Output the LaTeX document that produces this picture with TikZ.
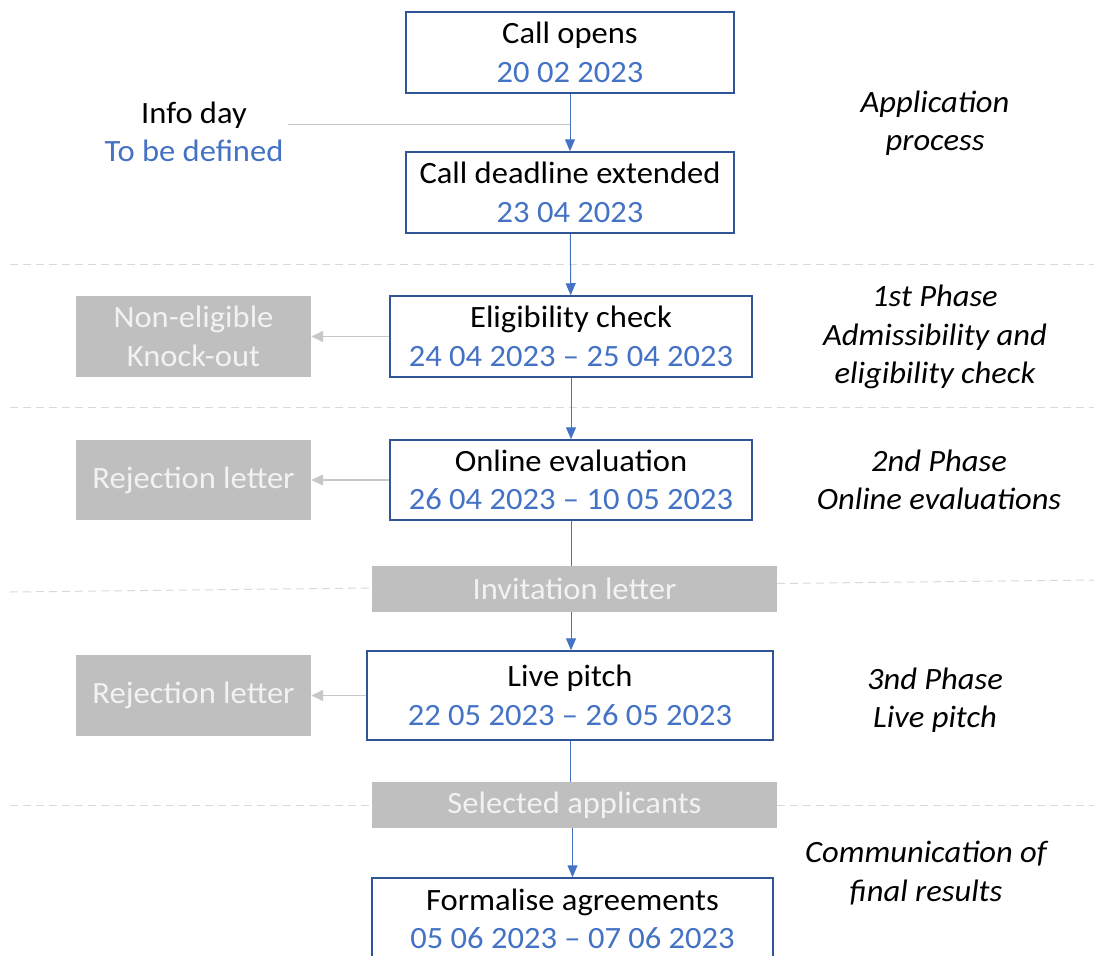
\documentclass[tikz,border=0pt]{standalone}
\usepackage{fontspec}
\setmainfont{Carlito}[FakeStretch=1.05]
\usetikzlibrary{arrows.meta,positioning}

\definecolor{boxblue}{RGB}{47,85,151}
\definecolor{dateblue}{RGB}{68,114,196}
\definecolor{greybox}{RGB}{191,191,191}
\definecolor{greytext}{RGB}{242,242,242}
\definecolor{greyline}{RGB}{200,200,200}
\definecolor{divgrey}{RGB}{217,217,217}

\newcommand{\datum}[1]{\textcolor{dateblue}{#1}}
\newcommand{\bodyfont}{\fontsize{31}{38.5}\selectfont}

\tikzset{
	stage/.style={draw=boxblue, line width=1.5pt, fill=white, align=center, inner sep=0pt},
	outcome/.style={fill=greybox, text=greytext, align=center, inner sep=0pt},
	flow/.style={draw=dateblue, line width=1pt, -{Triangle[length=12pt,width=10pt]}},
	plain/.style={draw=dateblue, line width=1pt},
	reject/.style={draw=greyline, line width=1.5pt, -{Triangle[length=12pt,width=11pt]}},
	phase/.style={font=\bodyfont\itshape, align=center},
	divider/.style={draw=divgrey, line width=1pt, dash pattern=on 8pt off 5pt}
}

\begin{document}
\begin{tikzpicture}[x=1pt, y=-1pt, font=\bodyfont]
	\useasboundingbox (0,0) rectangle (1094,955);

	% phase dividers
	\draw[divider] (10,264) -- (1094,264);
	\draw[divider] (10,407) -- (1094,407);
	\draw[divider] (10,592) -- (1094,580);
	\draw[divider] (10,805) -- (1094,805);

	% main flow
	\node[stage, minimum width=328, minimum height=81] (opens) at (570,52.5) {Call opens\\\datum{20 02 2023}};
	\node[stage, minimum width=328, minimum height=81] (deadline) at (570,192.5) {Call deadline extended\\\datum{23 04 2023}};
	\node[stage, minimum width=362, minimum height=81] (elig) at (571,336.5) {Eligibility check\\\datum{24 04 2023 -- 25 04 2023}};
	\node[stage, minimum width=362, minimum height=80] (online) at (571,480) {Online evaluation\\\datum{26 04 2023 -- 10 05 2023}};
	\node[outcome, minimum width=405, minimum height=46] (invite) at (574.5,589) {Invitation letter};
	\node[stage, minimum width=406, minimum height=89] (pitch) at (570,695.5) {Live pitch\\\datum{22 05 2023 -- 26 05 2023}};
	\node[outcome, minimum width=405, minimum height=46] (selected) at (574.5,805) {Selected applicants};
	\node[stage, minimum width=401, minimum height=82] (formal) at (572.5,919) {Formalise agreements\\\datum{05 06 2023 -- 07 06 2023}};

	% knock-outs
	\node[outcome, minimum width=235, minimum height=81] (knock) at (193.5,336.5) {Non-eligible\\Knock-out};
	\node[outcome, minimum width=235, minimum height=80] (reject1) at (193.5,480) {Rejection letter};
	\node[outcome, minimum width=235, minimum height=81] (reject2) at (193.5,695.5) {Rejection letter};

	% info day
	\node[align=center, inner sep=4pt] (info) at (194,132) {Info day\\\datum{To be defined}};
	\coordinate (infojoin) at (570,125);

	% connectors
	\draw[flow] (opens) -- (deadline);
	\draw[greyline, line width=1pt] (info.east |- infojoin) -- (infojoin);
	\draw[flow] (deadline) -- (elig);
	\draw[flow] (elig) -- (online);
	\draw[plain] (online.south) -- (online.south |- invite.north);
	\draw[flow] (online.south |- invite.south) -- (online.south |- pitch.north);
	\draw[plain] (pitch.south) -- (pitch.south |- selected.north);
	\draw[flow] (formal.north |- selected.south) -- (formal.north);
	\draw[reject] (elig) -- (knock);
	\draw[reject] (online) -- (reject1);
	\draw[reject] (pitch) -- (reject2);

	% phase labels
	\node[phase] (ph0) at (935,123) {Application\\process};
	\node[phase] (ph1) at (935,337) {1st Phase\\Admissibility and\\eligibility check};
	\node[phase] (ph2) at (939,480) {2nd Phase\\Online evaluations};
	\node[phase] (ph3) at (935,700) {3nd Phase\\Live pitch};
	\node[phase] (ph4) at (926,873) {Communication of\\final results};
\end{tikzpicture}
\end{document}
